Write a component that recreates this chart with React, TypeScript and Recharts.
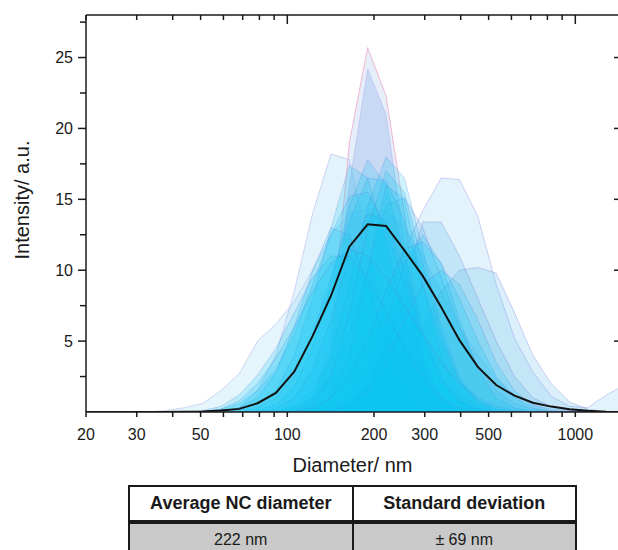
import React from 'react'
import { ComposedChart, Area, Line, XAxis, YAxis } from 'recharts'

// DLS size bins (nm)
const diameters = [18.17, 21.04, 24.36, 28.21, 32.67, 37.84, 43.82, 50.75, 58.77, 68.06, 78.82, 91.28, 105.7, 122.4, 141.8, 164.2, 190.1, 220.2, 255.0, 295.3, 342.0, 396.1, 458.7, 531.2, 615.1, 712.4, 825.0, 955.4, 1106, 1281, 1484]

// individual runs, intensity per bin
const runBroad = [0, 0, 0, 0, 0, 0.1, 0.3, 0.6, 1.5, 2.7, 5, 6.2, 7.8, 10, 12.5, 14, 14.3, 14.2, 13, 11, 8.5, 6, 4, 2.3, 1.2, 0.5, 0.2, 0.1, 0, 0, 0]
const runRight = [0, 0, 0, 0, 0, 0, 0, 0, 0, 0, 0, 0, 0, 0.1, 0.4, 1.2, 3.2, 7.5, 11.4, 14.2, 16.5, 16.4, 13.8, 9, 5.2, 2.8, 1.1, 0.4, 0.3, 1.2, 1.9]
const runTail = [0, 0, 0, 0, 0, 0, 0, 0, 0, 0, 0, 0, 0, 0, 0, 0.2, 0.5, 1.5, 3.5, 6, 8.5, 10, 10.2, 9.8, 7, 4, 2, 0.7, 0.2, 0, 0]
const runShoulder = [0, 0, 0, 0, 0, 0, 0, 0, 0, 0, 0, 0, 0, 0, 0.1, 0.5, 2, 5, 9, 13.4, 13.4, 11, 8, 5, 2.5, 1, 0.4, 0.1, 0, 0, 0]
const runLeft = [0, 0, 0, 0, 0, 0, 0, 0, 0, 0.3, 1.5, 4, 8.5, 14, 18.2, 17.8, 12, 6, 2.5, 1, 0.3, 0.1, 0, 0, 0, 0, 0, 0, 0, 0, 0]
const runSpike = [0, 0, 0, 0, 0, 0, 0, 0, 0, 0, 0, 0, 0.1, 0.8, 5, 19, 25.7, 22.3, 14, 4, 1, 0.2, 0, 0, 0, 0, 0, 0, 0, 0, 0]
const runSpike2 = [0, 0, 0, 0, 0, 0, 0, 0, 0, 0, 0, 0, 0.2, 1, 4, 16, 24.2, 21, 12, 4, 1, 0.2, 0, 0, 0, 0, 0, 0, 0, 0, 0]
const runMid = [0, 0, 0, 0, 0, 0, 0, 0, 0, 0, 0, 0, 0.3, 1, 2.5, 5.5, 10, 14.6, 15.1, 13, 9.5, 6, 3.2, 1.5, 0.6, 0.2, 0, 0, 0, 0, 0]
const runA = [0, 0, 0, 0, 0, 0, 0, 0, 0, 0, 0.1, 0.5, 1.8, 4.5, 9, 14.5, 17.8, 16, 11, 6, 2.5, 0.8, 0.2, 0, 0, 0, 0, 0, 0, 0, 0]
const runB = [0, 0, 0, 0, 0, 0, 0, 0, 0, 0, 0, 0, 0.5, 1.5, 4, 9, 14.5, 18, 16.5, 11.5, 6, 2.5, 0.8, 0.2, 0, 0, 0, 0, 0, 0, 0]
const runC = [0, 0, 0, 0, 0, 0, 0, 0, 0, 0.1, 0.5, 1.5, 4, 8, 13, 17.4, 16.5, 12, 6.5, 2.5, 0.7, 0.1, 0, 0, 0, 0, 0, 0, 0, 0, 0]
const runD = [0, 0, 0, 0, 0, 0, 0, 0, 0, 0, 0.3, 1, 2.5, 5.5, 9.5, 13.5, 16.5, 16.3, 13.5, 9, 5, 2.2, 0.8, 0.2, 0, 0, 0, 0, 0, 0, 0]
const runE = [0, 0, 0, 0, 0, 0, 0, 0, 0.2, 0.6, 1.5, 3, 5.5, 9, 12.5, 15.2, 15.5, 13, 9, 5, 2.2, 0.8, 0.2, 0, 0, 0, 0, 0, 0, 0, 0]
const runF = [0, 0, 0, 0, 0, 0, 0, 0, 0, 0, 0, 0, 0, 0.2, 1, 4, 10, 16, 15, 9, 4, 1.2, 0.3, 0, 0, 0, 0, 0, 0, 0, 0]
const runG = [0, 0, 0, 0, 0, 0, 0, 0, 0, 0, 0, 0, 0, 0, 0.2, 0.8, 2.5, 6, 10.5, 12.5, 10.5, 6.5, 3, 1, 0.3, 0, 0, 0, 0, 0, 0]
const runH = [0, 0, 0, 0, 0, 0, 0, 0, 0, 0.3, 1, 2.8, 6, 10, 13, 12.5, 9, 5, 2, 0.6, 0.1, 0, 0, 0, 0, 0, 0, 0, 0, 0, 0]
const runI = [0, 0, 0, 0, 0, 0, 0, 0, 0, 0, 0, 0.2, 1, 3, 6.5, 11, 14, 13.5, 10, 5.5, 2.3, 0.7, 0.1, 0, 0, 0, 0, 0, 0, 0, 0]
const runJ = [0, 0, 0, 0, 0, 0, 0, 0, 0, 0, 0, 0, 0, 0.5, 2.5, 7, 13, 17, 15.5, 10.5, 5.5, 2.2, 0.6, 0, 0, 0, 0, 0, 0, 0, 0]
const runK = [0, 0, 0, 0, 0, 0, 0, 0, 0, 0, 0, 0, 0, 0.3, 1, 2.5, 5, 8.5, 11.5, 12, 10.5, 8, 5, 2.5, 1, 0.3, 0, 0, 0, 0, 0]
const runL = [0, 0, 0, 0, 0, 0, 0, 0, 0, 0, 0, 0, 0, 0, 0.1, 0.5, 1.5, 3.5, 6.5, 9, 10, 9, 6.5, 3.5, 1.5, 0.5, 0.1, 0, 0, 0, 0]
const runM = [0, 0, 0, 0, 0, 0, 0, 0.1, 0.4, 1.2, 2.6, 4.5, 7, 9.5, 11, 11, 9.5, 7, 4.5, 2.5, 1, 0.3, 0, 0, 0, 0, 0, 0, 0, 0, 0]
const runN = [0, 0, 0, 0, 0, 0, 0, 0, 0.2, 0.8, 2, 3.8, 6, 8.5, 10.5, 11.5, 11, 9.5, 7.5, 5.5, 3.5, 2, 1, 0.4, 0.1, 0, 0, 0, 0, 0, 0]

// averaged curve (black)
const meanIntensity = [0, 0, 0, 0, 0, 0, 0.01, 0.03, 0.1, 0.22, 0.62, 1.35, 2.85, 5.35, 8.2, 11.66, 13.24, 13.12, 11.4, 9.6, 7.4, 5.07, 3.18, 1.9, 1.15, 0.65, 0.38, 0.2, 0.08, 0.02, 0]

const runs = [runBroad, runRight, runTail, runShoulder, runLeft, runSpike, runSpike2, runMid, runA, runB, runC, runD, runE, runF, runG, runH, runI, runJ, runK, runL, runM, runN]

const xMajor = [20, 30, 50, 100, 200, 300, 500, 1000]
const xMinor = [40, 60, 70, 80, 90, 400, 600, 700, 800, 900]
const yMajor = [5, 10, 15, 20, 25]
const yMinor = [2.5, 7.5, 12.5, 17.5, 22.5, 27.5]

const tableHead = ['Average NC diameter', 'Standard deviation']
const tableValues = ['222 nm', '± 69 nm']

const cyan = { fill: '#0cc6f7', fillOpacity: 0.2, stroke: '#5a78d8', strokeOpacity: 0.25 }
const runStyles = [
  { fill: '#57c3ef', fillOpacity: 0.16, stroke: '#8f8fe0', strokeOpacity: 0.35 },
  { fill: '#8fd0f2', fillOpacity: 0.25, stroke: '#9a9ae6', strokeOpacity: 0.45 },
  { fill: '#4cb4e8', fillOpacity: 0.2, stroke: '#8080d0', strokeOpacity: 0.35 },
  { fill: '#3fb0e6', fillOpacity: 0.2, stroke: '#8080d0', strokeOpacity: 0.35 },
  { fill: '#79c9f0', fillOpacity: 0.22, stroke: '#9a9ae6', strokeOpacity: 0.4 },
  { fill: '#b7cdf0', fillOpacity: 0.35, stroke: '#f0a6c8', strokeOpacity: 0.8 },
  { fill: '#8db3e6', fillOpacity: 0.35, stroke: '#b0b0ee', strokeOpacity: 0.5 },
  { fill: '#4fb3ea', fillOpacity: 0.2, stroke: '#7f7fd8', strokeOpacity: 0.35 },
]

const data = diameters.map((d, i) => {
  const row: Record<string, number> = { d, mean: meanIntensity[i] ?? 0 }
  runs.forEach((r, k) => {
    row['r' + k] = r[i] ?? 0
  })
  return row
})

const font = '"Liberation Sans", Arial, sans-serif'
const ink = '#1a1a1a'
const xDomain = [20, 1418]
const xTicks = [...xMajor, ...xMinor].sort((a, b) => a - b)

function BottomTick({ x, y, payload }: any) {
  const major = xMajor.includes(payload.value)
  return (
    <g>
      <line x1={x} x2={x} y1={y} y2={y + 5} stroke={ink} strokeWidth={1.5} />
      {major && (
        <text x={x} y={y + 28} textAnchor="middle" fontSize={16} fill={ink} fontFamily={font}>
          {payload.value}
        </text>
      )}
    </g>
  )
}

function TopTick({ x, y, payload }: any) {
  const decade = payload.value === 100 || payload.value === 1000
  return <line x1={x} x2={x} y1={y} y2={y + (decade ? 9 : 5)} stroke={ink} strokeWidth={1.5} />
}

function LeftTick({ x, y, payload }: any) {
  const major = yMajor.includes(payload.value)
  return (
    <g>
      <line x1={x - (major ? 8 : 6)} x2={x} y1={y} y2={y} stroke={ink} strokeWidth={1.5} />
      {major && (
        <text x={x - 13} y={y} dy="0.36em" textAnchor="end" fontSize={16} fill={ink} fontFamily={font}>
          {payload.value}
        </text>
      )}
    </g>
  )
}

function RightTick({ x, y }: any) {
  return <line x1={x - 5} x2={x} y1={y} y2={y} stroke={ink} strokeWidth={1.5} />
}

export default function App() {
  return (
    <div style={{ position: 'absolute', left: 0, top: 0, width: 618, height: 550, overflow: 'hidden', background: '#fff', fontFamily: font }}>
      <ComposedChart width={640} height={480} data={data} margin={{ top: 14, right: 20, bottom: 0, left: 0 }}>
        <XAxis
          dataKey="d"
          type="number"
          scale="log"
          domain={xDomain}
          allowDataOverflow
          ticks={xTicks}
          interval={0}
          tickSize={0}
          tickMargin={0}
          tickLine={false}
          tick={<BottomTick />}
          height={68}
          axisLine={{ stroke: ink, strokeWidth: 1.5 }}
          label={{ value: 'Diameter/ nm', position: 'insideBottom', offset: 8, fontSize: 20, fill: ink, fontFamily: font }}
        />
        <XAxis
          xAxisId="top"
          orientation="top"
          dataKey="d"
          type="number"
          scale="log"
          domain={xDomain}
          allowDataOverflow
          ticks={xTicks}
          interval={0}
          tickSize={0}
          tickMargin={0}
          tickLine={false}
          tick={<TopTick />}
          height={1}
          axisLine={{ stroke: ink, strokeWidth: 1.5 }}
        />
        <YAxis
          type="number"
          domain={[0, 28]}
          allowDataOverflow
          ticks={[...yMajor, ...yMinor].sort((a, b) => a - b)}
          interval={0}
          width={86}
          tickSize={0}
          tickMargin={0}
          tickLine={false}
          tick={<LeftTick />}
          axisLine={{ stroke: ink, strokeWidth: 1.5 }}
          label={{
            content: () => (
              <text x={22} y={200} transform="rotate(-90, 22, 200)" textAnchor="middle" dominantBaseline="central" fontSize={20} fill={ink} fontFamily={font}>
                Intensity/ a.u.
              </text>
            ),
          }}
        />
        <YAxis
          yAxisId="right"
          orientation="right"
          type="number"
          domain={[0, 28]}
          allowDataOverflow
          ticks={yMajor}
          interval={0}
          width={1}
          tickSize={0}
          tickMargin={0}
          tickLine={false}
          tick={<RightTick />}
          axisLine={false}
        />
        {runs.map((_, k) => {
          const s = runStyles[k] ?? cyan
          return (
            <Area
              key={k}
              dataKey={'r' + k}
              type="linear"
              fill={s.fill}
              fillOpacity={s.fillOpacity}
              stroke={s.stroke}
              strokeOpacity={s.strokeOpacity}
              strokeWidth={1}
              dot={false}
              activeDot={false}
              isAnimationActive={false}
            />
          )
        })}
        <Line
          xAxisId="top"
          yAxisId="right"
          dataKey="mean"
          type="linear"
          stroke="#111"
          strokeWidth={2}
          dot={false}
          activeDot={false}
          isAnimationActive={false}
        />
      </ComposedChart>

      <div style={{ position: 'absolute', left: 128, top: 485, width: 449, boxSizing: 'border-box', borderLeft: `2px solid ${ink}`, borderRight: `2px solid ${ink}`, borderTop: `2px solid ${ink}` }}>
        <div style={{ display: 'flex', height: 33 }}>
          {tableHead.map((t, i) => (
            <div key={t} style={{ flex: 1, display: 'flex', alignItems: 'center', justifyContent: 'center', fontWeight: 'bold', fontSize: 18, color: ink, borderRight: i === 0 ? `2px solid ${ink}` : 'none' }}>
              {t}
            </div>
          ))}
        </div>
        <div style={{ height: 4, background: ink }} />
        <div style={{ display: 'flex', height: 31, background: '#c9c9c9' }}>
          {tableValues.map((t, i) => (
            <div key={t} style={{ flex: 1, display: 'flex', alignItems: 'center', justifyContent: 'center', fontSize: 16, color: ink, borderRight: i === 0 ? `2px solid ${ink}` : 'none' }}>
              {t}
            </div>
          ))}
        </div>
      </div>
    </div>
  )
}
